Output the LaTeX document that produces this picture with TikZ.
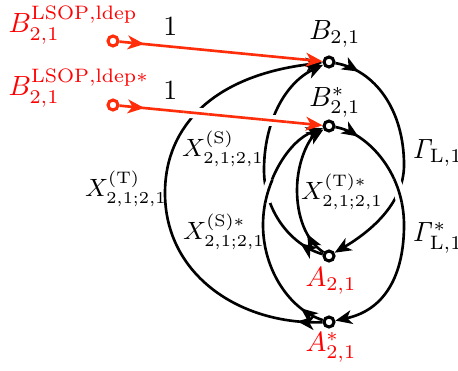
\documentclass[tikz,border=0pt]{standalone}
\usetikzlibrary{arrows.meta,decorations.markings}
\definecolor{lsred}{RGB}{255,45,10}
\begin{document}
\begin{tikzpicture}[x=0.36pt,y=-0.36pt,
  myarr/.tip={Stealth[length=6pt,width=5pt,inset=1.7pt]},
  vtx/.style={circle,draw,line width=1.1pt,minimum size=3.6pt,inner sep=0pt,fill=white},
  conn/.style={line width=0.95pt,-myarr,postaction={decorate,decoration={markings,mark=at position 9pt with {\arrow{myarr}}}}},
  rconn/.style={conn,lsred},
  lbl/.style={inner sep=0pt},
  xlbl/.style={inner sep=0pt,font=\small},
  halo/.style={white,line width=4pt},
  plain/.style={line width=0.95pt}]
\useasboundingbox (0,0) rectangle (458,370);
% vertices
\node[vtx] (B21) at (329,62) {};
\node[vtx] (B21s) at (329,126) {};
\node[vtx] (A21) at (329,256) {};
\node[vtx] (A21s) at (329,322) {};
\node[vtx,draw=lsred] (S1) at (113,41) {};
\node[vtx,draw=lsred] (S2) at (113,105) {};
% labels
\node[lbl] (tB) at (335,34) {$B_{2,1}$};
\node[lbl] (tBs) at (335,102) {$B^*_{2,1}$};
\node[lbl,text=red] (tA) at (331,281) {$A_{2,1}$};
\node[lbl,text=red] (tAs) at (331,347) {$A^*_{2,1}$};
\node[lbl,text=red,anchor=base west] (tS1) at (8,33) {$B^{\mathrm{LSOP,ldep}}_{2,1}$};
\node[lbl,text=red,anchor=base west] (tS2) at (8,96) {$B^{\mathrm{LSOP,ldep}*}_{2,1}$};
\node[lbl,anchor=west] (tG) at (412,153) {$\mathit{\Gamma}_{\mathrm{L},1}$};
\node[lbl,anchor=west] (tGs) at (412,238) {$\mathit{\Gamma}^*_{\mathrm{L},1}$};
\node[xlbl] (tXT) at (126,189) {$X^{(\mathrm{T})}_{2,1;2,1}$};
\node[xlbl] (tXS) at (223,149) {$X^{(\mathrm{S})}_{2,1;2,1}$};
\node[xlbl] (tXSs) at (224,232) {$X^{(\mathrm{S})*}_{2,1;2,1}$};
\node[xlbl] (tXTs) at (342,192) {$X^{(\mathrm{T})*}_{2,1;2,1}$};
% paths
\def\pG{(B21) .. controls (375,70) and (404,110) .. (404,165) .. controls (404,205) and (368,233) .. (A21)}
\def\pGs{(B21s) .. controls (365,132) and (404,170) .. (404,225) .. controls (404,275) and (385,310) .. (A21s)}
\def\pXT{(A21s) .. controls (240,325) and (165,275) .. (165,193) .. controls (165,125) and (215,75) .. (B21)}
\def\pXS{(A21) .. controls (290,245) and (264,210) .. (264,170) .. controls (264,122) and (285,83) .. (B21)}
\def\pXSs{(A21s) .. controls (290,310) and (263,270) .. (263,225) .. controls (263,180) and (290,140) .. (B21s)}
\def\pXTs{(A21) .. controls (305,240) and (297,215) .. (297,190) .. controls (297,160) and (310,138) .. (B21s)}
\def\pRb{(S2) -- (B21s)}
% edges
\draw[conn] \pG;
\draw[conn] \pGs;
\draw[conn] \pXT;
\draw[conn] \pXS;
\draw[conn] \pXSs;
\draw[conn] \pXTs;
\draw[rconn] (S1) -- (B21) node[pos=0.25,above=0pt,text=black] (one1) {1};
\draw[rconn] (S2) -- (B21s) node[pos=0.25,above=0pt,text=black] (one2) {1};
% crossings
\begin{scope}\clip (400,190) circle [radius=4.5pt];
 \draw[halo] \pGs; \draw[plain] \pGs; \end{scope}
\begin{scope}\clip (267,191) circle [radius=4.5pt];
 \draw[halo] \pXSs; \draw[plain] \pXSs; \end{scope}
\begin{scope}\clip (196,113) circle [radius=4.5pt];
 \draw[halo] \pRb; \draw[plain,lsred] \pRb; \end{scope}
\begin{scope}\clip (274,120) circle [radius=4.5pt];
 \draw[halo] \pRb; \draw[plain,lsred] \pRb; \end{scope}
\end{tikzpicture}
\end{document}
